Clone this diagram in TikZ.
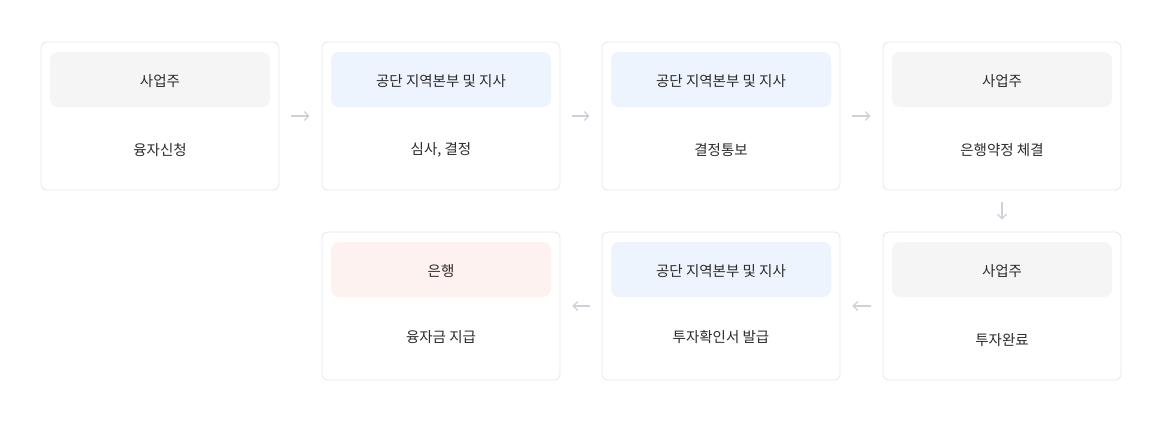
\documentclass[tikz,border=0pt]{standalone}
\usepackage{fontspec}
\setmainfont{Noto Sans CJK KR}
\usepackage{xcolor}
\usetikzlibrary{arrows.meta}

\definecolor{cardline}{HTML}{E4E7EB}
\definecolor{arrowgray}{HTML}{CDD2D8}
\definecolor{ink}{HTML}{2B2B2B}
\definecolor{headgray}{HTML}{F5F5F5}
\definecolor{headblue}{HTML}{EDF4FD}
\definecolor{headpink}{HTML}{FDF2F0}

\begin{document}
\begin{tikzpicture}[x=1pt,y=-1pt,
    card/.style={draw=cardline, line width=0.8pt, fill=white, rounded corners=6pt,
      minimum width=238pt, minimum height=148pt, inner sep=0pt},
    head/.style={rounded corners=8pt, minimum width=220pt, minimum height=55pt,
      inner sep=0pt, text height=14pt, text depth=0pt, text=ink,
      font=\fontsize{14.5}{16}\selectfont},
    word/.style={text=ink, font=\fontsize{14.5}{16}\selectfont},
    flow/.style={draw=arrowgray, line width=1.2pt, -{Straight Barb[length=4.5pt,width=9pt]},
      shorten >=12pt, shorten <=12pt}]
        \useasboundingbox (0,0) rectangle (1161,421);

        % First row
        \node[card] (apply) at (160,116) {};
        \node[head, fill=headgray] (apply head) at (160,79.5) {사업주};
        \node[word] (apply text) at (160,150) {융자신청};

        \node[card] (review) at (441,116) {};
        \node[head, fill=headblue] (review head) at (441,79.5) {공단 지역본부 및 지사};
        \node[word] (review text) at (441,150) {심사, 결정};

        \node[card] (notice) at (721,116) {};
        \node[head, fill=headblue] (notice head) at (721,79.5) {공단 지역본부 및 지사};
        \node[word] (notice text) at (721,150) {결정통보};

        \node[card] (contract) at (1002,116) {};
        \node[head, fill=headgray] (contract head) at (1002,79.5) {사업주};
        \node[word] (contract text) at (1002,150) {은행약정 체결};

        % Second row
        \node[card] (invest) at (1002,306) {};
        \node[head, fill=headgray] (invest head) at (1002,269.5) {사업주};
        \node[word] (invest text) at (1002,340) {투자완료};

        \node[card] (confirm) at (721,306) {};
        \node[head, fill=headblue] (confirm head) at (721,269.5) {공단 지역본부 및 지사};
        \node[word] (confirm text) at (721,337) {투자확인서 발급};

        \node[card] (payout) at (441,306) {};
        \node[head, fill=headpink] (payout head) at (441,269.5) {은행};
        \node[word] (payout text) at (441,337) {융자금 지급};

        % Arrows
        \draw[flow] (apply.east) -- (review.west);
        \draw[flow] (review.east) -- (notice.west);
        \draw[flow] (notice.east) -- (contract.west);
        \draw[flow] (contract.south) -- (invest.north);
        \draw[flow] (invest.west) -- (confirm.east);
        \draw[flow] (confirm.west) -- (payout.east);
    \end{tikzpicture}
\end{document}
